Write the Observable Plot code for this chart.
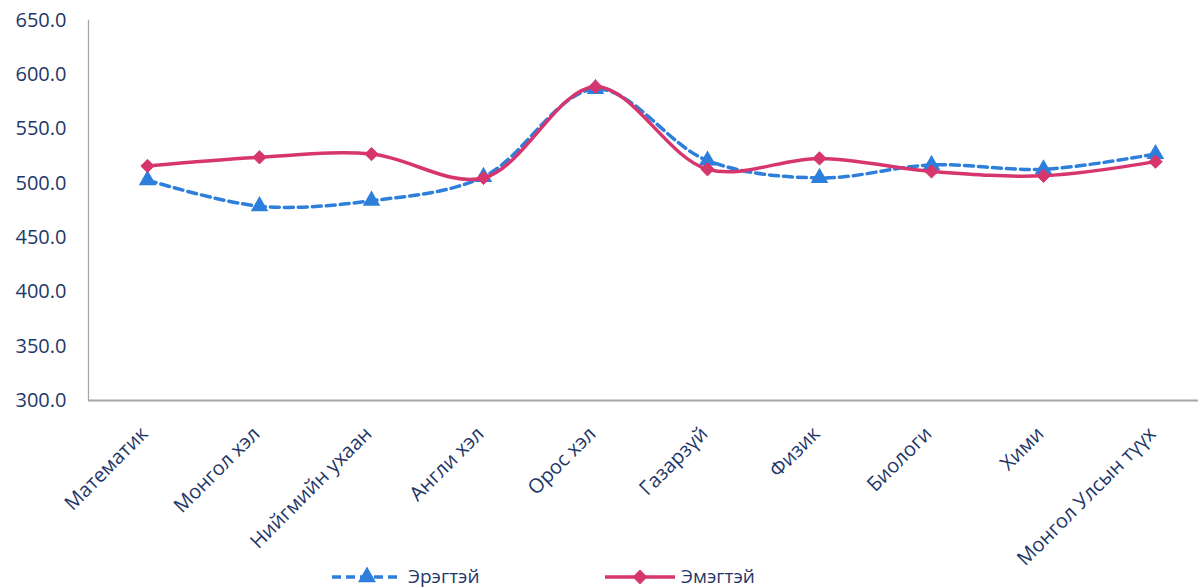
<!DOCTYPE html>
<html>
<head>
<meta charset="utf-8">
<script src="https://cdn.jsdelivr.net/npm/d3@7"></script>
<script src="https://cdn.jsdelivr.net/npm/@observablehq/plot@0.6"></script>
<style>
  html, body { margin: 0; padding: 0; background: #fff; overflow: hidden; }
  #chart { position: relative; width: 1201px; height: 588px; }
  svg { font-family: "Open Sans", "Noto Sans", sans-serif; }
</style>
</head>
<body>
<div id="chart"></div>
<script>
const subjects = ["Математик", "Монгол хэл", "Нийгмийн ухаан", "Англи хэл", "Орос хэл", "Газарзүй", "Физик", "Биологи", "Хими", "Монгол Улсын түүх"];
const male = [503, 479, 484, 506, 587, 521, 505, 517, 513, 527];
const female = [516, 524, 527, 505, 589, 513, 523, 511, 507, 520];
const seriesNames = ["Эрэгтэй", "Эмэгтэй"];
const yTicks = [300, 350, 400, 450, 500, 550, 600, 650];

const maleData = subjects.map((s, i) => ({subject: s, value: male[i]}));
const femaleData = subjects.map((s, i) => ({subject: s, value: female[i]}));

const blue = "#2E7FDB";
const pink = "#D6366D";
const textColor = "#1F3768";

const plot = Plot.plot({
  width: 1201,
  height: 588,
  marginTop: 20,
  marginBottom: 188,
  marginLeft: 88,
  marginRight: 3,
  style: {fontFamily: "'Open Sans', 'Noto Sans', sans-serif", color: textColor, background: "#fff"},
  x: {type: "point", domain: subjects, range: [145, 1157], padding: 0},
  y: {domain: [300, 650]},
  marks: [
    Plot.axisY({ticks: yTicks, tickFormat: d => d.toFixed(1), tickSize: 0, tickPadding: 22, fontSize: 20, fill: textColor, label: null}),
    Plot.axisX({tickSize: 0, tickPadding: 30, tickRotate: -45, fontSize: 20, fill: textColor, label: null, dx: -3}),
    Plot.frame({anchor: "left", stroke: "#a6a6a6", strokeWidth: 1.3}),
    Plot.ruleY([300], {stroke: "#a6a6a6", strokeWidth: 2}),
    Plot.line(maleData, {x: "subject", y: "value", stroke: blue, strokeWidth: 3.5, strokeDasharray: "9,5", curve: "catmull-rom"}),
    Plot.dot(maleData, {x: "subject", y: "value", symbol: "triangle", fill: blue, r: 6.5}),
    Plot.line(femaleData, {x: "subject", y: "value", stroke: pink, strokeWidth: 3.5, curve: "catmull-rom"}),
    Plot.dot(femaleData, {x: "subject", y: "value", symbol: "diamond2", fill: pink, stroke: pink, strokeWidth: 1, r: 6})
  ]
});

document.getElementById("chart").appendChild(plot);

// Legend
const svg = d3.select(plot);
const lg = svg.append("g");
const items = [
  {name: seriesNames[0], color: blue, dash: "9,5", symbol: d3.symbolTriangle, x0: 332},
  {name: seriesNames[1], color: pink, dash: null, symbol: d3.symbolDiamond2, x0: 605}
];
items.forEach(it => {
  const g = lg.append("g");
  g.append("line").attr("x1", it.x0).attr("x2", it.x0 + 70).attr("y1", 577).attr("y2", 577)
    .attr("stroke", it.color).attr("stroke-width", 3.5).attr("stroke-dasharray", it.dash);
  g.append("path").attr("d", d3.symbol(it.symbol, 140)()).attr("transform", `translate(${it.x0 + 35},577)`).attr("fill", it.color);
  g.append("text").attr("x", it.x0 + 76).attr("y", 583).attr("font-size", 19).attr("text-anchor", "start").attr("fill", textColor).text(it.name);
});
</script>
</body>
</html>
